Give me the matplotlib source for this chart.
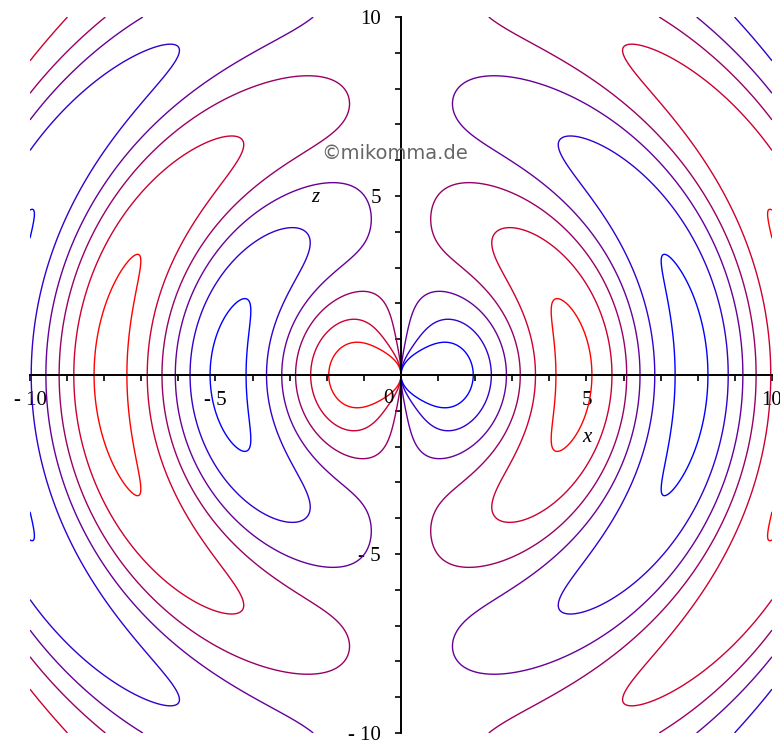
import numpy as np
import matplotlib.pyplot as plt

# field of an oscillating dipole in the x-z plane, Maple-style contour plot
k = 1.02           # wave number
phase = 0.26       # omega*t
x_range = [-10, 10]
z_range = [-10, 10]
levels = [-0.91, -0.55, -0.18, 0.18, 0.55, 0.91]
level_colors = ["#ff0000", "#cc0033", "#990066", "#660099", "#3300cc", "#0000ff"]
tick_vals = [-10, -5, 5, 10]
tick_text = ["- 10", "- 5", "5", "10"]

n = 1000
x = np.linspace(x_range[0], x_range[1], n)
z = np.linspace(z_range[0], z_range[1], n)
X, Z = np.meshgrid(x, z)
R = np.hypot(X, Z)
u = k * R - phase
F = (X / R) * (np.cos(u) / (k * R) + np.sin(u))

fig = plt.figure(figsize=(7.8, 7.44), dpi=100)
ax = fig.add_axes([30 / 780, 1 - 733 / 744, 742 / 780, 716 / 744])
ax.contour(X, Z, F, levels=levels, colors=level_colors, linewidths=1.0)
ax.set_xlim(x_range)
ax.set_ylim(z_range)

for side in ["top", "right"]:
    ax.spines[side].set_visible(False)
ax.spines["left"].set_position(("data", 0))
ax.spines["bottom"].set_position(("data", 0))
ax.spines["left"].set_linewidth(1.4)
ax.spines["bottom"].set_linewidth(1.4)

serif = {"family": "Liberation Serif", "size": 15}
labels = [tick_text[tick_vals.index(v)] if v in tick_vals else "" for v in range(-10, 11)]
ax.set_xticks(np.arange(-10, 11, 1))
ax.set_yticks(np.arange(-10, 11, 1))
ax.set_xticklabels(labels, fontdict=serif)
ax.set_yticklabels(labels, fontdict=serif)
ax.tick_params(axis="x", direction="out", length=4.5, width=1.2, pad=7)
ax.tick_params(axis="y", direction="out", length=4.5, width=1.2, pad=10)

ax.text(-0.35, -0.65, "0", ha="center", va="center", **serif)
ax.text(5.0, -1.75, "x", ha="center", va="center", style="italic", **serif)
ax.text(-2.3, 4.95, "z", ha="center", va="center", style="italic", **serif)
ax.text(-2.16, 6.2, "\u00a9mikomma.de", ha="left", va="center", family="DejaVu Sans", size=14, color="#666666")

fig.savefig("out.png", dpi=100)
